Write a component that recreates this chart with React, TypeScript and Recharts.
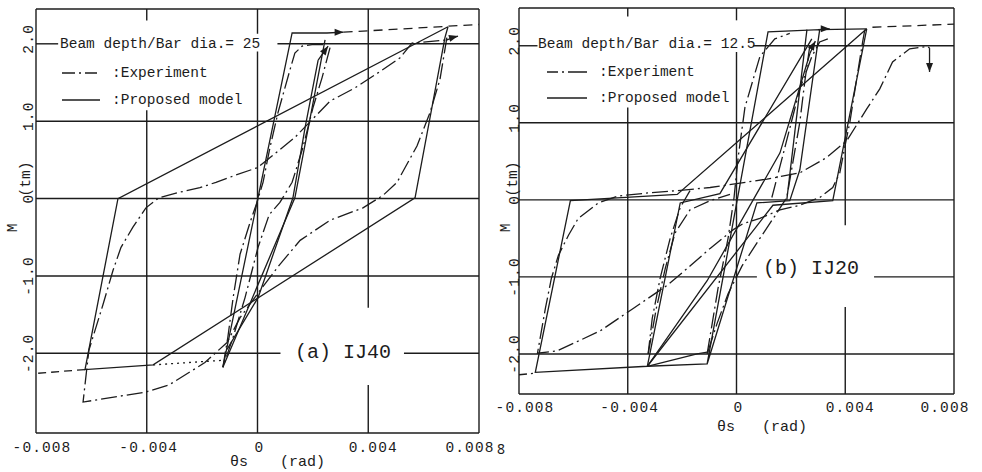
import React from 'react';
import { LineChart, Line, XAxis, YAxis, ReferenceLine } from 'recharts';

type Pt = [number, number];

const MONO = '"Liberation Mono", "DejaVu Sans Mono", monospace';
const INK = '#1c1c1c';
const EXP_DASH = '16 4 2 4';

const xTicks = [-0.008, -0.004, 0, 0.004, 0.008];
const xTickLabels = ['-0.008', '-0.004', '0', '0.004', '0.008'];
const yTicks = [-2, -1, 0, 1, 2];
const yTickLabels = ['-2.0', '-1.0', '0', '1.0', '2.0'];

// ---- (a) IJ40 : theta_s (rad), M (tm)
const ij40ModelOuter: Pt[] = [
  [0.00688, 2.22], [0.00677, 2.08], [0.00569, 0.01], [-0.00377, -2.15],
  [-0.00623, -2.21], [-0.00504, 0], [0.00688, 2.22],
];
const ij40ModelInnerUp: Pt[] = [[-0.00125, -2.18], [0.00125, 2.14], [0.00251, 2.14]];
const ij40ModelInnerDown: Pt[] = [[0.00244, 2.05], [0.00135, 0.01], [-0.00125, -2.18]];
const ij40ModelReload: Pt[] = [
  [-0.0011, -1.95], [0.00002, -1.28], [0.00128, 0.01], [0.00172, 0.92], [0.00219, 1.79],
];
const ij40EnvDotted: Pt[] = [[-0.00377, -2.15], [-0.00125, -2.09]];
const ij40EnvDashedLow: Pt[] = [[-0.00623, -2.21], [-0.008, -2.26]];
const ij40EnvDashedTop: Pt[] = [[0.00311, 2.15], [0.008, 2.25]];
const ij40ExpOuter: Pt[] = [
  [0.00684, 2.08], [0.00659, 1.54], [0.00623, 1.11], [0.00576, 0.68], [0.00504, 0.21],
  [0.00453, 0.04], [0.00381, -0.12], [0.00262, -0.28], [0.00154, -0.54], [0.00081, -0.85],
  [-0.00002, -1.24], [-0.00063, -1.54], [-0.0011, -1.86], [-0.0019, -2.12], [-0.0032, -2.41],
  [-0.00403, -2.5], [-0.0063, -2.63], [-0.00609, -1.96], [-0.00558, -1.37], [-0.00522, -0.93],
  [-0.00493, -0.63], [-0.0045, -0.37], [-0.00403, -0.12], [-0.00356, 0.01], [-0.00284, 0.08],
  [-0.00208, 0.14], [-0.0015, 0.21], [-0.00081, 0.3], [0, 0.4], [0.00135, 0.79],
  [0.00262, 1.26], [0.00352, 1.43], [0.00442, 1.64], [0.00515, 1.82], [0.00558, 2.01],
  [0.00684, 2.05],
];
const ij40ExpInnerUp: Pt[] = [
  [-0.00125, -2.18], [-0.00107, -1.79], [-0.00088, -1.28], [-0.00063, -0.72], [-0.00027, -0.31],
  [-0.00002, -0.05], [0.0002, 0.21], [0.00045, 0.66], [0.00074, 1.11], [0.00117, 1.66],
  [0.00135, 1.88], [0.00161, 1.97], [0.00197, 1.99], [0.00244, 1.99],
];
const ij40ExpInnerDown: Pt[] = [
  [0.00262, 1.95], [0.00233, 1.56], [0.002, 1.17], [0.00164, 0.66], [0.00125, 0.21],
  [0.00081, -0.05], [0.00042, -0.21], [0.00002, -0.63], [-0.00045, -1.28], [-0.00088, -1.79],
  [-0.00125, -2.18],
];
const ij40Arrows: { pts: Pt[]; angle: number }[] = [
  { pts: [[0.00251, 2.14], [0.00311, 2.15]], angle: 0 },
  { pts: [[0.00684, 2.05], [0.00724, 2.1]], angle: -15 },
  { pts: [[0.00219, 1.79], [0.00255, 1.97]], angle: -54 },
];

// ---- (b) IJ20
const ij20ModelOuter: Pt[] = [
  [0.00479, 2.22], [0.00354, -0.01], [0.00134, -0.07], [-0.00328, -2.16], [-0.0074, -2.24],
  [-0.00611, -0.01], [-0.00218, 0.07], [0.00479, 2.22],
];
const ij20ModelInner: Pt[] = [
  [-0.00328, -2.16], [-0.00108, -2.13], [0.00116, 2.18], [0.00306, 2.21], [0.00233, 0.39],
  [0.00196, -0.01], [0.00075, -0.04], [-0.00108, -2.13],
];
const ij20ModelTop: Pt[] = [[0.00306, 2.21], [0.00479, 2.22]];
const ij20ModelUnload: Pt[] = [[0.00259, 2.21], [0.00185, 0]];
const ij20ModelReloadA: Pt[] = [[-0.00328, -2.16], [-0.00207, -0.04], [-0.00061, 0.08], [0.00277, 2.09]];
const ij20ModelReloadB: Pt[] = [[-0.00328, -2.16], [-0.00108, -1.05], [0.0016, 0.61], [0.0027, 1.9]];
const ij20ModelLowStep: Pt[] = [[-0.00328, -2.16], [-0.00145, -2.0], [-0.00097, -1.97]];
const ij20EnvDashedTop: Pt[] = [[0.005, 2.24], [0.008, 2.28]];
const ij20ExpTail: Pt[] = [[-0.008, -2.27], [-0.0074, -2.25]];
const ij20ExpOuter: Pt[] = [
  [0.00472, 2.21], [0.00464, 2.05], [0.00442, 1.57], [0.00417, 1.01], [0.00398, 0.68],
  [0.0038, 0.35], [0.00354, 0.16], [0.00306, 0.03], [0.00233, -0.07], [0.0016, -0.13],
  [0.00086, -0.24], [0.00024, -0.31], [-0.00013, -0.39], [-0.00097, -0.63], [-0.00171, -0.86],
  [-0.00255, -1.11], [-0.0038, -1.41], [-0.00501, -1.7], [-0.00659, -1.96], [-0.00732, -1.99],
  [-0.00703, -1.41], [-0.00681, -1.02], [-0.00655, -0.72], [-0.00618, -0.46], [-0.00582, -0.24],
  [-0.00508, -0.04], [-0.00435, 0.05], [-0.00325, 0.09], [-0.00218, 0.12], [-0.00097, 0.16],
  [0, 0.21], [0.00112, 0.27], [0.00233, 0.35], [0.00332, 0.55], [0.00406, 0.77],
  [0.00479, 1.18], [0.00527, 1.44], [0.00574, 1.79], [0.00637, 1.96], [0.00703, 1.99],
  [0.0071, 1.97],
];
const ij20ExpInnerUp: Pt[] = [
  [-0.00108, -2.0], [-0.00068, -1.15], [-0.00031, -0.5], [-0.00009, 0.03], [0.00006, 0.55],
  [0.00031, 1.2], [0.00086, 1.86], [0.00141, 2.09], [0.00196, 2.16],
];
const ij20ExpInnerDown: Pt[] = [
  [0.0027, 2.01], [0.00251, 1.53], [0.00233, 1.01], [0.00207, 0.48], [0.00185, 0.03],
  [0.00141, -0.21], [0.00086, -0.5], [0.0002, -0.86], [-0.00031, -1.22], [-0.00072, -1.61],
  [-0.00108, -2.0],
];
const ij20ExpMidDown: Pt[] = [
  [-0.00171, 0.12], [-0.00207, -0.1], [-0.00244, -0.5], [-0.00281, -1.02], [-0.0031, -1.54],
  [-0.00325, -2.0],
];
const ij20ExpMidUp: Pt[] = [
  [-0.00325, -2.0], [-0.00295, -1.41], [-0.00262, -0.89], [-0.00226, -0.43], [-0.00171, -0.13],
  [-0.00097, -0.01], [-0.00024, 0.07],
];
const ij20ExpRight: Pt[] = [
  [0.0013, 0.03], [0.00178, 0.68], [0.00233, 1.44], [0.00277, 1.86], [0.00306, 2.05], [0.00336, 2.09],
];
const ij20Arrows: { pts: Pt[]; angle: number }[] = [
  { pts: [[0.003, 2.21], [0.00343, 2.22]], angle: 0 },
  { pts: [[0.0027, 1.9], [0.0029, 2.06]], angle: -60 },
  { pts: [[0.0071, 1.97], [0.0071, 1.66]], angle: 90 },
];

type Seg = [number, number, number, number];

// grid pieces (the scan leaves gaps where the labels sit)
const ij40Grid: Seg[] = [
  [-0.008, 2, -0.0072, 2], [0.00072, 2, 0.008, 2],
  [-0.008, 1, 0.008, 1], [-0.008, 0, 0.008, 0], [-0.008, -1, 0.008, -1],
  [-0.008, -2, 0.00083, -2], [0.00529, -2, 0.008, -2],
  [-0.004, 2.3, -0.004, 2.45], [-0.004, -3.03, -0.004, 1.14],
  [0, 2.13, 0, 2.45], [0, -3.03, 0, 1.9],
  [0.004, -1.41, 0.004, 2.45], [0.004, -3.03, 0.004, -2.41],
  [-0.008, -3.03, -0.008, 2.45], [0.008, -3.03, 0.008, 2.45],
  [-0.008, 2.45, 0.008, 2.45], [-0.008, -3.03, 0.008, -3.03],
];
const ij20Grid: Seg[] = [
  [-0.008, 2, -0.00732, 2], [0.00061, 2, 0.008, 2],
  [-0.008, 1, 0.008, 1], [-0.008, 0, 0.008, 0],
  [-0.008, -1, 0.00075, -1], [0.00506, -1, 0.008, -1],
  [-0.008, -2, 0.008, -2],
  [-0.004, 2.38, -0.004, 2.49], [-0.004, -2.52, -0.004, 1.2],
  [0, 2.33, 0, 2.49], [0, -2.52, 0, 1.92],
  [0.004, -0.33, 0.004, 2.49], [0.004, -2.52, 0.004, -1.39],
  [-0.008, -2.52, -0.008, 2.49], [0.008, -2.52, 0.008, 2.49],
  [-0.008, 2.49, 0.008, 2.49], [-0.008, -2.52, 0.008, -2.52],
];

const xLabelShift = [6, 2, 2, 5, -9];

const toRows = (pts: Pt[]) => pts.map(([x, y]) => ({ x, y }));

const curve = (key: string, pts: Pt[], dash?: string) => (
  <Line
    key={key}
    data={toRows(pts)}
    dataKey="y"
    type="linear"
    stroke={INK}
    strokeWidth={1.3}
    strokeDasharray={dash}
    dot={false}
    activeDot={false}
    isAnimationActive={false}
  />
);

const arrow = (key: string, pts: Pt[], angle: number) => (
  <Line
    key={key}
    data={toRows(pts)}
    dataKey="y"
    type="linear"
    stroke={INK}
    strokeWidth={1.3}
    activeDot={false}
    isAnimationActive={false}
    dot={(p: any) =>
      p.index === pts.length - 1 ? (
        <path
          key={`${key}-h`}
          d="M0,0 L-9,-3.5 L-9,3.5 Z"
          transform={`translate(${p.cx},${p.cy}) rotate(${angle})`}
          fill={INK}
        />
      ) : (
        <g key={`${key}-d${p.index}`} />
      )
    }
  />
);

const XTick = (p: any) => {
  const i = xTicks.findIndex((t) => Math.abs(t - p.payload.value) < 1e-9);
  return (
    <text x={p.x + xLabelShift[i]} y={p.baseY} textAnchor="middle" dominantBaseline="central"
      fontFamily={MONO} fontSize={14.5} letterSpacing={1.1} fill={INK}>
      {xTickLabels[i]}
    </text>
  );
};

const YTick = (p: any) => {
  const i = yTicks.findIndex((t) => Math.abs(t - p.payload.value) < 1e-9);
  const cy = p.y + (yTicks[i] > 0 ? -5 : 0);
  return (
    <text x={p.baseX} y={cy} transform={`rotate(-90 ${p.baseX} ${cy})`} textAnchor="middle"
      dominantBaseline="central" fontFamily={MONO} fontSize={14.5} letterSpacing={1.2} fill={INK}>
      {yTickLabels[i]}
    </text>
  );
};

interface PanelProps {
  width: number;
  margin: { top: number; right: number; left: number; bottom: number };
  yDomain: [number, number];
  yAxisWidth: number;
  xAxisHeight: number;
  xLabelY: number;
  yLabelX: number;
  grid: Seg[];
  children: React.ReactNode;
}

const Panel = ({ width, margin, yDomain, yAxisWidth, xAxisHeight, xLabelY, yLabelX, grid, children }: PanelProps) => (
  <LineChart width={width} height={472} margin={margin}>
    <XAxis type="number" dataKey="x" domain={[-0.008, 0.008]} ticks={xTicks} interval={0}
      height={xAxisHeight} axisLine={false} tickLine={false} allowDataOverflow
      tick={(p: any) => <XTick {...p} baseY={xLabelY} />} />
    <YAxis type="number" domain={yDomain} ticks={yTicks} interval={0} width={yAxisWidth}
      axisLine={false} tickLine={false} allowDataOverflow
      tick={(p: any) => <YTick {...p} baseX={yLabelX} />} />
    {grid.map(([x1, y1, x2, y2], i) => (
      <ReferenceLine key={`g${i}`} segment={[{ x: x1, y: y1 }, { x: x2, y: y2 }]}
        stroke={INK} strokeWidth={1.4} ifOverflow="visible" />
    ))}
    {children}
  </LineChart>
);

const txt = { fontFamily: MONO, fill: INK } as const;

export default function App() {
  return (
    <div style={{ position: 'absolute', left: 0, top: 0, width: 982, height: 472, background: '#fff' }}>
      <div style={{ position: 'absolute', left: 0, top: 0 }}>
        <Panel width={500} margin={{ top: 9, right: 21, left: 0, bottom: 0 }} yDomain={[-3.03, 2.45]}
          yAxisWidth={36} xAxisHeight={39} xLabelY={448} yLabelX={29} grid={ij40Grid}>
          {curve('m-outer', ij40ModelOuter)}
          {curve('m-up', ij40ModelInnerUp)}
          {curve('m-down', ij40ModelInnerDown)}
          {curve('m-reload', ij40ModelReload)}
          {curve('env-dot', ij40EnvDotted, '2 4')}
          {curve('env-low', ij40EnvDashedLow, '8 5')}
          {curve('env-top', ij40EnvDashedTop, '9 6')}
          {curve('e-outer', ij40ExpOuter, EXP_DASH)}
          {curve('e-up', ij40ExpInnerUp, EXP_DASH)}
          {curve('e-down', ij40ExpInnerDown, EXP_DASH)}
          {ij40Arrows.map((a, i) => arrow(`a${i}`, a.pts, a.angle))}
        </Panel>
      </div>
      <div style={{ position: 'absolute', left: 482, top: 0 }}>
        <Panel width={500} margin={{ top: 8, right: 28, left: 0, bottom: 0 }} yDomain={[-2.52, 2.49]}
          yAxisWidth={37} xAxisHeight={78} xLabelY={408} yLabelX={33} grid={ij20Grid}>
          {curve('m-outer', ij20ModelOuter)}
          {curve('m-inner', ij20ModelInner)}
          {curve('m-top', ij20ModelTop)}
          {curve('m-unload', ij20ModelUnload)}
          {curve('m-ra', ij20ModelReloadA)}
          {curve('m-rb', ij20ModelReloadB)}
          {curve('m-step', ij20ModelLowStep)}
          {curve('env-top', ij20EnvDashedTop, '9 6')}
          {curve('e-tail', ij20ExpTail, '8 4 2 4')}
          {curve('e-outer', ij20ExpOuter, EXP_DASH)}
          {curve('e-up', ij20ExpInnerUp, EXP_DASH)}
          {curve('e-down', ij20ExpInnerDown, EXP_DASH)}
          {curve('e-mdown', ij20ExpMidDown, EXP_DASH)}
          {curve('e-mup', ij20ExpMidUp, EXP_DASH)}
          {curve('e-right', ij20ExpRight, EXP_DASH)}
          {ij20Arrows.map((a, i) => arrow(`b${i}`, a.pts, a.angle))}
        </Panel>
      </div>
      <svg width={982} height={472} style={{ position: 'absolute', left: 0, top: 0, pointerEvents: 'none' }}>
        {/* legend (a) */}
        <text x={60} y={44} dominantBaseline="central" fontSize={14.5} {...txt}>Beam depth/Bar dia.= 25</text>
        <line x1={62} x2={97} y1={73} y2={73} stroke={INK} strokeWidth={1.3} strokeDasharray="13 4 2 4 13" />
        <text x={112} y={73} dominantBaseline="central" fontSize={14.5} {...txt}>:Experiment</text>
        <line x1={62} x2={100} y1={100} y2={100} stroke={INK} strokeWidth={1.3} />
        <text x={112} y={100} dominantBaseline="central" fontSize={14.5} {...txt}>:Proposed model</text>
        <text x={295} y={352} dominantBaseline="central" fontSize={20} {...txt}>(a) IJ40</text>
        <text x={230} y={462} dominantBaseline="central" fontSize={15} {...txt}>θs</text>
        <text x={280} y={462} dominantBaseline="central" fontSize={15} {...txt}>(rad)</text>
        <text x={13} y={228} transform="rotate(-90 13 228)" textAnchor="middle" dominantBaseline="central" fontSize={14.5} {...txt}>M</text>
        <text x={26} y={179} transform="rotate(-90 26 179)" textAnchor="middle" dominantBaseline="central" fontSize={14.5} {...txt}>(tm)</text>
        {/* legend (b) */}
        <text x={538} y={44} dominantBaseline="central" fontSize={14.5} {...txt}>Beam depth/Bar dia.= 12.5</text>
        <line x1={547} x2={587} y1={72} y2={72} stroke={INK} strokeWidth={1.3} strokeDasharray="11 4 2 4 20" />
        <text x={599} y={72} dominantBaseline="central" fontSize={14.5} {...txt}>:Experiment</text>
        <line x1={547} x2={587} y1={98} y2={98} stroke={INK} strokeWidth={1.3} />
        <text x={599} y={98} dominantBaseline="central" fontSize={14.5} {...txt}>:Proposed model</text>
        <text x={763} y={268} dominantBaseline="central" fontSize={20} {...txt}>(b) IJ20</text>
        <text x={717} y={427} dominantBaseline="central" fontSize={15} {...txt}>θs</text>
        <text x={762} y={427} dominantBaseline="central" fontSize={15} {...txt}>(rad)</text>
        <text x={506} y={228} transform="rotate(-90 506 228)" textAnchor="middle" dominantBaseline="central" fontSize={14.5} {...txt}>M</text>
        <text x={513} y={179} transform="rotate(-90 513 179)" textAnchor="middle" dominantBaseline="central" fontSize={14.5} {...txt}>(tm)</text>
        <text x={501} y={448} textAnchor="middle" dominantBaseline="central" fontSize={14} fontFamily="'Noto Sans', sans-serif" fill={INK}>8</text>
      </svg>
    </div>
  );
}
